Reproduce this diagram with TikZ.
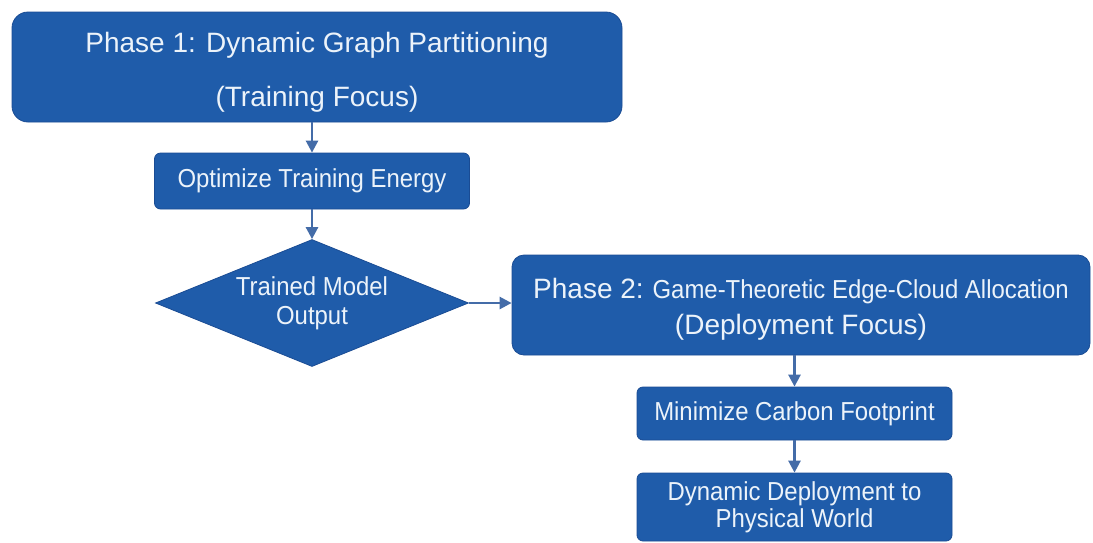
\documentclass[tikz,border=0pt]{standalone}
\usepackage{fontspec}
\setmainfont{Liberation Sans}
\newfontfamily\narrowsans[FakeStretch=0.92]{Liberation Sans}
\usetikzlibrary{shapes.geometric,arrows.meta}
\definecolor{boxblue}{RGB}{31,92,170}
\definecolor{boxedge}{RGB}{26,76,148}
\definecolor{arrowblue}{RGB}{68,108,168}
\definecolor{txt}{RGB}{236,243,250}
\begin{document}
\begin{tikzpicture}[x=1pt,y=-1pt,
  box/.style={draw=boxedge, line width=0.8pt, fill=boxblue, text=txt, align=center, inner sep=0pt},
  smalltext/.style={font=\narrowsans\fontsize{26}{#1}\selectfont},
  arr/.style={-{Triangle[length=12pt,width=12pt]}, draw=arrowblue, line width=2.6pt}]
\useasboundingbox (0,0) rectangle (1093,542);
\fill[white] (0,0) rectangle (1093,542);
\node[box, rounded corners=16pt, minimum width=610pt, minimum height=110pt, font=\fontsize{28}{54}\selectfont] (p1) at (317,67) {\rule{0pt}{31pt}Phase 1: Dynamic Graph Partitioning\\(Training Focus)};
\node[box, rounded corners=6pt, minimum width=315pt, minimum height=56pt, smalltext=29] (opt) at (312,181) {Optimize Training Energy};
\node[box, diamond, aspect=2.5, minimum width=313pt, minimum height=127pt, smalltext=29] (dia) at (312,303) {Trained Model\\Output};
\node[box, rounded corners=12pt, minimum width=578pt, minimum height=100pt, smalltext=36] (p2) at (801,305) {\rule{0pt}{29pt}{\rmfamily\fontsize{28}{36}\selectfont Phase 2:} Game-Theoretic Edge-Cloud Allocation\\{\rmfamily\fontsize{28}{36}\selectfont (Deployment Focus)}};
\node[box, rounded corners=6pt, minimum width=315pt, minimum height=53pt, smalltext=29] (min) at (794.5,413.5) {Minimize Carbon Footprint};
\node[box, rounded corners=6pt, minimum width=315pt, minimum height=68pt, smalltext=27] (dep) at (794.5,507) {Dynamic Deployment to\\Physical World};
\draw[arr] (opt.north |- p1.south) -- (opt.north);
\draw[arr] (opt.south) -- (dia.north);
\draw[arr] (dia.east) -- (dia.east -| p2.west);
\draw[arr] (min.north |- p2.south) -- (min.north);
\draw[arr] (min.south) -- (dep.north);
\end{tikzpicture}
\end{document}
